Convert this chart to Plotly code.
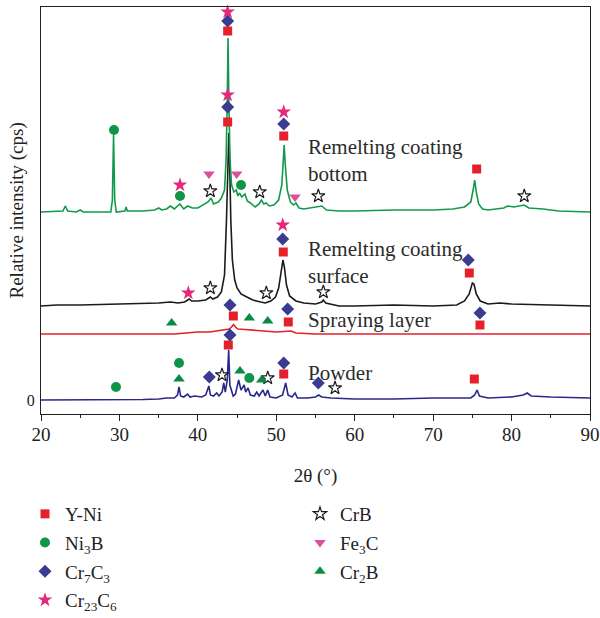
import plotly.graph_objects as go

# ---------------- data (2θ in degrees, intensity in arbitrary offset units) ----------------
bottom_x = [20.0, 22.8, 23.1, 23.4, 24.5, 25.0, 25.4, 28.9, 29.1, 29.25, 29.4, 29.6, 30.7, 30.85, 31.0,
            33.0, 34.5, 35.0, 35.4, 36.0, 36.5, 37.0, 37.7, 38.2, 38.7, 39.3, 40.0, 40.8, 41.3, 41.7,
            42.0, 42.6, 43.0, 43.4, 43.6, 43.75, 43.85, 43.95, 44.1, 44.3, 44.6, 44.9, 45.1, 45.3,
            45.6, 46.0, 46.3, 46.7, 47.3, 47.8, 48.1, 48.4, 48.7, 49.1, 49.7, 50.3, 50.7, 50.9, 51.0,
            51.15, 51.4, 51.8, 52.2, 52.5, 52.9, 53.5, 54.5, 55.3, 55.8, 56.4, 58.0, 60.0, 65.0, 70.0,
            72.5, 74.0, 74.8, 75.1, 75.3, 75.5, 75.8, 76.3, 77.0, 79.0, 79.5, 80.3, 81.0, 81.6, 82.2,
            84.0, 86.0, 90.0]
bottom_y = [188, 189, 194, 189, 188, 190, 188, 188, 200, 265, 200, 188, 189, 193, 189,
            189, 190, 192, 190, 191, 194, 191, 196, 191, 194, 192, 192, 196, 198, 202,
            196, 198, 202, 210, 240, 300, 362, 300, 240, 215, 208, 210, 204, 207,
            203, 206, 199, 197, 193, 196, 200, 196, 197, 194, 195, 200, 215, 240, 255,
            235, 210, 198, 195, 197, 192, 191, 192, 193, 194, 190, 189, 189, 190, 190,
            191, 193, 198, 210, 220, 208, 196, 191, 190, 192, 194, 193, 194, 195, 192,
            191, 189, 188]

surface_x = [20.0, 22.0, 25.0, 30.0, 33.0, 35.0, 36.5, 37.5, 38.3, 38.9, 39.2, 40.0, 41.0, 41.6, 41.9,
             42.5, 43.0, 43.4, 43.65, 43.95, 44.05, 44.2, 44.4, 44.7, 45.0, 45.5, 46.0, 47.0, 48.0,
             48.6, 49.3, 49.9, 50.3, 50.6, 50.85, 51.05, 51.3, 51.7, 52.5, 53.5, 55.0, 55.8, 56.0,
             56.3, 58.0, 60.0, 65.0, 70.0, 73.0, 74.0, 74.6, 75.0, 75.2, 75.5, 76.0, 77.0, 78.5,
             80.0, 85.0, 90.0]
surface_y = [94, 95, 95, 96, 96, 97, 98, 97, 98, 101, 99, 99, 100, 103, 101,
             103, 108, 125, 180, 267, 240, 180, 140, 120, 112, 106, 104, 100, 98,
             97, 99, 103, 112, 125, 140, 132, 115, 104, 99, 97, 96, 98, 100,
             97, 94, 94, 95, 94, 95, 99, 106, 117, 116, 106, 99, 96, 97,
             96, 95, 94]

spray_x = [20.0, 25.0, 30.0, 35.0, 37.0, 38.5, 40.0, 41.5, 42.5, 43.5, 44.0, 44.3, 44.55, 44.8,
           45.1, 46.0, 47.0, 48.0, 50.0, 51.9, 52.5, 55.0, 60.0, 70.0, 80.0, 90.0]
spray_y = [66, 66, 66, 66, 66, 67, 68, 68, 69, 70, 71, 73, 75.5, 73,
           71, 70.5, 70, 69, 68, 69, 67, 66, 66, 66, 66, 66]

powder_x = [20.0, 25.0, 30.0, 33.0, 35.0, 36.0, 37.0, 37.4, 37.6, 37.8, 38.2, 38.7, 39.0, 39.6, 40.5,
            41.0, 41.4, 41.6, 42.0, 42.4, 42.7, 43.1, 43.3, 43.5, 43.75, 43.93, 44.08, 44.3, 44.5,
            44.8, 45.2, 45.5, 45.9, 46.1, 46.4, 46.7, 47.2, 47.5, 47.8, 48.3, 48.6, 48.9, 49.2,
            50.0, 50.8, 51.2, 51.5, 52.0, 52.4, 52.7, 54.0, 55.0, 55.4, 55.8, 57.0, 60.0, 65.0,
            70.0, 73.0, 74.8, 75.3, 75.6, 75.9, 77.0, 80.0, 81.5, 82.0, 82.5, 85.0, 90.0]
powder_y = [0, 0, 0, 0.5, 1, 2, 2, 5, 13, 4, 3, 6, 3, 4, 3,
            5, 14, 5, 4, 7, 4, 8, 17, 8, 20, 50, 15, 8, 4,
            6, 20, 10, 15, 8, 12, 5, 4, 8, 4, 10, 4, 10, 3,
            2, 5, 17, 5, 3, 7, 2, 2, 3, 5, 3, 2, 1, 1,
            2, 2, 2, 5, 10, 4, 2, 3, 5, 7, 4, 3, 2]

# phase marker positions (2θ, offset intensity)
yni_x = [43.80, 43.80, 50.95, 75.55, 50.89, 74.61, 44.52, 51.53, 75.97, 43.88, 50.95, 75.25]
yni_y = [369, 278, 264, 231, 148, 127, 84, 78, 75, 55, 26, 21]
ni3b_x = [29.31, 37.72, 45.50, 29.56, 37.60, 46.56]
ni3b_y = [270, 204, 215, 13, 37, 22]
cr7c3_x = [43.80, 43.80, 50.95, 50.82, 74.48, 44.10, 51.45, 75.97, 41.46, 44.10, 50.95, 55.36]
cr7c3_y = [379, 293, 276, 161, 140, 95, 91, 87, 23, 65, 37, 17]
cr23c6_x = [43.80, 43.80, 50.95, 37.72, 38.78, 50.82]
cr23c6_y = [388, 305, 288, 215, 107, 175]
crb_x = [41.59, 47.89, 55.36, 81.62, 41.59, 48.73, 56.00, 43.08, 48.91, 57.49]
crb_y = [209, 208, 204, 204, 112, 107, 108, 25, 22, 12]
fe3c_x = [41.42, 44.95, 52.39]
fe3c_y = [226, 226, 203]
cr2b_x = [36.66, 46.56, 48.91, 37.60, 45.37, 48.14]
cr2b_y = [77, 82, 79, 21, 29, 20]

curve_labels = ["Remelting coating<br>bottom", "Remelting coating<br>surface", "Spraying layer", "Powder"]
label_x = [53.8, 53.8, 53.8, 53.8]
label_y = [239.5, 137.5, 80, 27]

x_ticks = [20, 30, 40, 50, 60, 70, 80, 90]

# ---------------- figure ----------------
FONT = "Liberation Serif, Times New Roman, serif"
fig = go.Figure()

for xs, ys, col in [(powder_x, powder_y, "#2a2889"), (spray_x, spray_y, "#e3202a"),
                    (surface_x, surface_y, "#1b1b1b"), (bottom_x, bottom_y, "#129a4a")]:
    fig.add_trace(go.Scatter(x=xs, y=ys, mode="lines", line=dict(color=col, width=1.6),
                             showlegend=False, hoverinfo="skip"))

phases = [
    ("Y-Ni", yni_x, yni_y, "square", "#e4212a", 9, "legend"),
    ("Ni<sub>3</sub>B", ni3b_x, ni3b_y, "circle", "#109548", 10, "legend"),
    ("Cr<sub>7</sub>C<sub>3</sub>", cr7c3_x, cr7c3_y, "diamond", "#3a3c92", 10, "legend"),
    ("Cr<sub>23</sub>C<sub>6</sub>", cr23c6_x, cr23c6_y, "star", "#e5287a", 11, "legend"),
    ("CrB", crb_x, crb_y, "star-open", "#1a1a1a", 10, "legend2"),
    ("Fe<sub>3</sub>C", fe3c_x, fe3c_y, "triangle-down", "#d9519b", 10, "legend2"),
    ("Cr<sub>2</sub>B", cr2b_x, cr2b_y, "triangle-up", "#0b8a45", 10, "legend2"),
]
for i, (name, xs, ys, sym, col, size, lg) in enumerate(phases):
    mk = dict(symbol=sym, color=col, size=size, line=dict(width=0))
    if sym == "star-open":
        mk = dict(symbol=sym, color=col, size=size, line=dict(width=1.2, color=col))
    fig.add_trace(go.Scatter(x=xs, y=ys, mode="markers", name=name, marker=mk,
                             legend=lg, legendgroup="g%d" % i, cliponaxis=False))

for t, ax, ay in zip(curve_labels, label_x, label_y):
    fig.add_annotation(x=ax, y=ay, text=t, showarrow=False, xanchor="left", yanchor="middle",
                       align="left", font=dict(family=FONT, size=21, color="#2b2b2b"))

# y-axis title (rotated, paper-referenced, left of the frame)
fig.add_annotation(x=-(41 - 16) / 549, y=0.5, xref="paper", yref="paper", xanchor="center",
                   yanchor="middle", text="Relative intensity (cps)", textangle=-90,
                   showarrow=False, font=dict(family=FONT, size=19, color="#222"))

fig.update_layout(
    width=600, height=618,
    margin=dict(l=41, r=10, t=7, b=204, autoexpand=False),
    paper_bgcolor="white", plot_bgcolor="white",
    font=dict(family=FONT, size=19, color="#222"),
    legend=dict(x=25 / 600, y=(618 - 495) / 618, xref="container", yref="container",
                xanchor="left", yanchor="top", bgcolor="rgba(0,0,0,0)",
                font=dict(family=FONT, size=19), tracegroupgap=1, itemwidth=30),
    legend2=dict(x=300 / 600, y=(618 - 495) / 618, xref="container", yref="container",
                 xanchor="left", yanchor="top", bgcolor="rgba(0,0,0,0)",
                 font=dict(family=FONT, size=19), tracegroupgap=1, itemwidth=30),
)
fig.update_xaxes(range=[20, 90], tickvals=x_ticks, ticks="outside", ticklen=6, tickwidth=1.2,
                 tickcolor="#222", showline=True, linecolor="#222", linewidth=1.2, mirror=True,
                 showgrid=False, zeroline=False, tickfont=dict(family=FONT, size=19),
                 automargin=True, ticklabelstandoff=-3,
                 minor=dict(dtick=5, ticks="outside", ticklen=3, tickcolor="#222", tickwidth=1.2),
                 title=dict(text="2θ (°)", font=dict(family=FONT, size=19), standoff=24))
fig.update_yaxes(range=[-14, 393], tickvals=[0], ticktext=["0"], ticks="", showline=True,
                 linecolor="#222", linewidth=1.2, mirror=True, showgrid=False, zeroline=False,
                 tickfont=dict(family=FONT, size=16), automargin=True, ticklabelstandoff=2)

fig.write_html("out.html")
